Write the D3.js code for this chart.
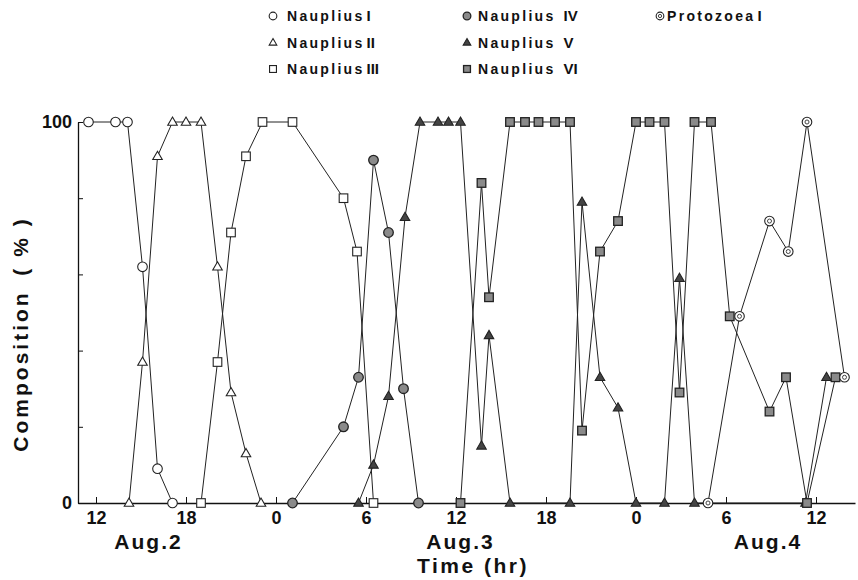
<!DOCTYPE html>
<html>
<head>
<meta charset="utf-8">
<script src="https://cdn.jsdelivr.net/npm/d3@7"></script>
<style>
  body { margin: 0; background: #fff; }
  text { font-family: "Liberation Sans", Arial, sans-serif; font-weight: bold; fill: #111; }
</style>
</head>
<body>
<svg id="chart" width="858" height="580"></svg>
<script>
// time in hours from Aug.2 0:00, value = composition (%)
var naupliusI   = [[11.5,100],[13.3,100],[14.1,100],[15.1,62],[16.1,9],[17.1,0]];
var naupliusII  = [[14.2,0],[15.1,37],[16.1,91],[17.1,100],[18.0,100],[19.0,100],[20.1,62],[21.0,29],[22.0,13],[23.0,0]];
var naupliusIII = [[19.0,0],[20.1,37],[21.0,71],[22.0,91],[23.1,100],[25.1,100],[28.5,80],[29.4,66],[30.5,0]];
var naupliusIV  = [[25.1,0],[28.5,20],[29.5,33],[30.5,90],[31.5,71],[32.5,30],[33.5,0]];
var naupliusV   = [[29.5,0],[30.5,10],[31.5,28],[32.6,75],[33.6,100],[34.8,100],[35.5,100],[36.3,100],
                   [37.7,15],[38.2,44],[39.6,0],[43.6,0],[44.4,79],[45.6,33],[46.8,25],[48.0,0],
                   [49.9,0],[50.9,59],[51.9,0],[59.3,0],[60.7,33]];
var naupliusVI  = [[36.3,0],[37.7,84],[38.2,54],[39.6,100],[40.6,100],[41.5,100],[42.6,100],[43.6,100],
                   [44.4,19],[45.6,66],[46.8,74],[48.0,100],[48.9,100],[49.9,100],[50.9,29],[51.9,100],
                   [53.0,100],[54.25,49],[56.9,24],[58.0,33],[59.4,0],[61.3,33]];
var protozoeaI  = [[52.8,0],[54.9,49],[56.9,74],[58.15,66],[59.4,100],[61.9,33]];

var seriesNames = ["Nauplius", "Nauplius", "Nauplius", "Nauplius", "Nauplius", "Nauplius", "Protozoea"];
var seriesNums  = ["I", "II", "III", "IV", "V", "VI", "I"];
var seriesShape = ["circle", "triangle", "square", "gcircle", "ftriangle", "gsquare", "dcircle"];
var seriesData  = [naupliusI, naupliusII, naupliusIII, naupliusIV, naupliusV, naupliusVI, protozoeaI];

var xTicks = [12, 18, 24, 30, 36, 42, 48, 54, 60];
var yTicks = [0, 20, 40, 60, 80, 100];
var dayLabels = ["Aug.2", "Aug.3", "Aug.4"];
var dayTimes  = [15.5, 36.3, 56.8];

var svg = d3.select("#chart");

var x = d3.scaleLinear().domain([10.8, 62.6]).range([78, 855]);
var y = d3.scaleLinear().domain([0, 100]).range([503, 122]);

// axes
var xAxis = d3.axisBottom(x)
  .tickValues(xTicks)
  .tickSizeInner(-6)
  .tickSizeOuter(0)
  .tickPadding(8)
  .tickFormat(function(d) { return d % 24; });
var gx = svg.append("g").attr("transform", "translate(0," + y(0) + ")").call(xAxis);

var yAxis = d3.axisLeft(y)
  .tickValues(yTicks)
  .tickSizeInner(-5)
  .tickSizeOuter(0)
  .tickPadding(6)
  .tickFormat(function(d) { return (d == 0 || d == 100) ? d : ""; });
var gy = svg.append("g").attr("transform", "translate(" + x.range()[0] + ",0)").call(yAxis);

[gx, gy].forEach(function(g) {
  g.select(".domain").attr("stroke", "#111").attr("stroke-width", 1.3);
  g.selectAll(".tick line").attr("stroke", "#111").attr("stroke-width", 1);
  g.selectAll(".tick text")
    .style("font-family", '"Liberation Sans", Arial, sans-serif')
    .style("font-weight", "bold")
    .style("font-size", "18px")
    .attr("fill", "#111");
});

svg.selectAll(".dayLabel")
  .data(dayLabels)
  .enter()
  .append("text")
  .attr("class", "dayLabel")
  .attr("x", function(d, i) { return x(dayTimes[i]); })
  .attr("y", 549)
  .attr("text-anchor", "middle")
  .style("font-size", "21px")
  .style("letter-spacing", "2px")
  .text(function(d) { return d; });

svg.append("text")
  .attr("x", 473)
  .attr("y", 573)
  .attr("text-anchor", "middle")
  .style("font-size", "21px")
  .style("letter-spacing", "2.5px")
  .text("Time (hr)");

svg.append("text")
  .attr("transform", "translate(28,371) rotate(-90)")
  .attr("text-anchor", "middle")
  .style("font-size", "21px")
  .style("letter-spacing", "3px")
  .text("Composition");
svg.append("text")
  .attr("transform", "translate(28,246) rotate(-90)")
  .attr("text-anchor", "middle")
  .style("font-size", "21px")
  .style("letter-spacing", "3px")
  .attr("xml:space", "preserve")
  .text("( % )");

// marker drawing
function drawMarker(g, shape, cx, cy, s) {
  var r = 4.8 * s;
  if (shape == "circle") {
    g.append("circle").attr("cx", cx).attr("cy", cy).attr("r", r)
      .attr("fill", "#fff").attr("stroke", "#222").attr("stroke-width", 1.1);
  } else if (shape == "gcircle") {
    g.append("circle").attr("cx", cx).attr("cy", cy).attr("r", r)
      .attr("fill", "#8a8a8a").attr("stroke", "#222").attr("stroke-width", 1.3);
  } else if (shape == "dcircle") {
    g.append("circle").attr("cx", cx).attr("cy", cy).attr("r", r)
      .attr("fill", "#fff").attr("stroke", "#222").attr("stroke-width", 1.1);
    g.append("circle").attr("cx", cx).attr("cy", cy).attr("r", r * 0.42)
      .attr("fill", "#fff").attr("stroke", "#444").attr("stroke-width", 1);
  } else if (shape == "square" || shape == "gsquare") {
    var h = 4.3 * s;
    g.append("rect").attr("x", cx - h).attr("y", cy - h).attr("width", 2 * h).attr("height", 2 * h)
      .attr("fill", shape == "square" ? "#fff" : "#8a8a8a")
      .attr("stroke", "#222").attr("stroke-width", shape == "square" ? 1.1 : 1.3);
  } else {
    var t = 5 * s;
    var pts = [[cx, cy - t], [cx + t * 0.95, cy + t * 0.65], [cx - t * 0.95, cy + t * 0.65]];
    g.append("polygon").attr("points", pts.map(function(p) { return p.join(","); }).join(" "))
      .attr("fill", shape == "triangle" ? "#fff" : "#444")
      .attr("stroke", "#222").attr("stroke-width", 1.1);
  }
}

var line = d3.line()
  .x(function(d) { return x(d[0]); })
  .y(function(d) { return y(d[1]); });

var linesG = svg.append("g").attr("class", "lines");
seriesData.forEach(function(data) {
  linesG.append("path")
    .attr("d", line(data))
    .attr("fill", "none")
    .attr("stroke", "#222")
    .attr("stroke-width", 1);
});

var marksG = svg.append("g").attr("class", "marks");
seriesData.forEach(function(data, i) {
  data.forEach(function(d) {
    drawMarker(marksG, seriesShape[i], x(d[0]), y(d[1]), 1);
  });
});

// legend
var legendColX = [273, 467, 660];
var legendTextDx = [14, 11, 7];
var legendRowY = [16, 42.5, 69];
var legendG = svg.append("g").attr("class", "legend");
seriesNames.forEach(function(name, i) {
  var col = Math.floor(i / 3), row = i % 3;
  var lx = legendColX[col], ly = legendRowY[row];
  drawMarker(legendG, seriesShape[i], lx, ly, 0.8);
  var t = legendG.append("text")
    .attr("x", lx + legendTextDx[col])
    .attr("y", ly + 5)
    .style("font-size", "14px")
    .style("letter-spacing", "2.3px");
  t.append("tspan").text(name);
  t.append("tspan")
    .attr("dx", col == 1 ? 8 : 2)
    .style("font-size", "15px")
    .style("letter-spacing", "0px")
    .style("font-weight", "900")
    .text(seriesNums[i]);
});
</script>
</body>
</html>
